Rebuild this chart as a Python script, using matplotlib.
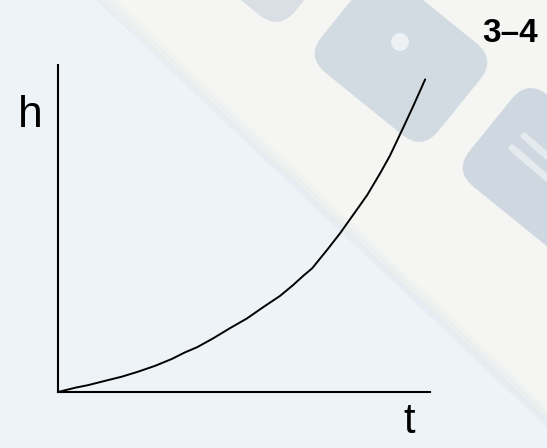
import matplotlib.pyplot as plt
from matplotlib.patches import FancyBboxPatch, Polygon, Circle
from matplotlib import transforms

# curve (t along, h up; both axes run 0..10)
t_vals = [0.0, 0.46, 0.81, 1.26, 1.72, 2.15, 2.61, 3.06, 3.41, 3.74, 4.17, 4.62, 5.08, 5.51,
          5.97, 6.32, 6.59, 6.83, 7.23, 7.58, 7.93, 8.31, 8.66, 8.92, 9.27, 9.54, 9.87]
h_vals = [0.0, 0.13, 0.21, 0.34, 0.47, 0.62, 0.80, 1.01, 1.21, 1.37, 1.64, 1.95, 2.25, 2.59,
          2.94, 3.27, 3.55, 3.78, 4.34, 4.85, 5.41, 6.02, 6.69, 7.22, 8.06, 8.72, 9.56]

y_label = "h"
x_label = "t"
slide_tag = "3\u20134"

W, H = 547, 448
fig = plt.figure(figsize=(W / 100, H / 100), dpi=100)
fig.patch.set_facecolor("#eef3f8")

# background: faded calculator photo, drawn in pixel coordinates
bg = fig.add_axes([0, 0, 1, 1])
bg.set_xlim(0, W)
bg.set_ylim(H, 0)
bg.axis("off")

# calculator body and its soft shadow edge
bg.add_patch(Polygon([(100, 0), (W, 0), (W, 420)], closed=True,
                     facecolor="#f6f7f3", edgecolor="none", alpha=0.95))
for off, a in [(0, 0.25), (6, 0.2), (12, 0.12)]:
    bg.add_patch(Polygon([(96 + off, 0), (104 + off, 0), (W, 418 - off * 0.9),
                          (W, 428 - off * 0.9)], closed=True,
                         facecolor="#d6e0e8", edgecolor="none", alpha=a))


def key(cx, cy, color, w=150, h=118, angle=39):
    p = FancyBboxPatch((cx - w / 2, cy - h / 2), w, h,
                       boxstyle="round,pad=0,rounding_size=26",
                       facecolor=color, edgecolor="none", alpha=0.9)
    rot = transforms.Affine2D().rotate_deg_around(cx, cy, angle)
    p.set_transform(rot + bg.transData)
    bg.add_patch(p)


key(401, 58, "#cfd8e0")
key(549, 172, "#cbd5de")
key(258, -62, "#d6dde4")
bg.add_patch(Circle((400, 42), 9, facecolor="#edf1f4", edgecolor="none"))
# "=" on the lower key
bg.plot([512, 547], [148, 178], color="#e4eaee", lw=5, solid_capstyle="round")
bg.plot([524, 547], [136, 156], color="#e4eaee", lw=5, solid_capstyle="round")

# main plot
left, right, top, bottom = 58, 430, 65, 392
ax = fig.add_axes([left / W, (H - bottom) / H, (right - left) / W, (bottom - top) / H])
ax.patch.set_alpha(0)
ax.set_xlim(0, 10)
ax.set_ylim(0, 10)
for s in ["top", "right"]:
    ax.spines[s].set_visible(False)
for s in ["left", "bottom"]:
    ax.spines[s].set_linewidth(1.5)
    ax.spines[s].set_color("black")
ax.set_xticks([])
ax.set_yticks([])

ax.plot(t_vals, h_vals, color="black", lw=1.4, solid_capstyle="round",
        solid_joinstyle="round")

fig.text(30 / W, 1 - 115 / H, y_label, fontsize=32, family="Liberation Sans",
         ha="center", va="center")
fig.text(409 / W, 1 - 422 / H, x_label, fontsize=30, family="Liberation Sans",
         ha="center", va="center")
fig.text(510 / W, 1 - 33 / H, slide_tag, fontsize=24, family="Liberation Sans",
         fontweight="bold", ha="center", va="center")

fig.savefig("out.png", dpi=100, facecolor=fig.get_facecolor())
